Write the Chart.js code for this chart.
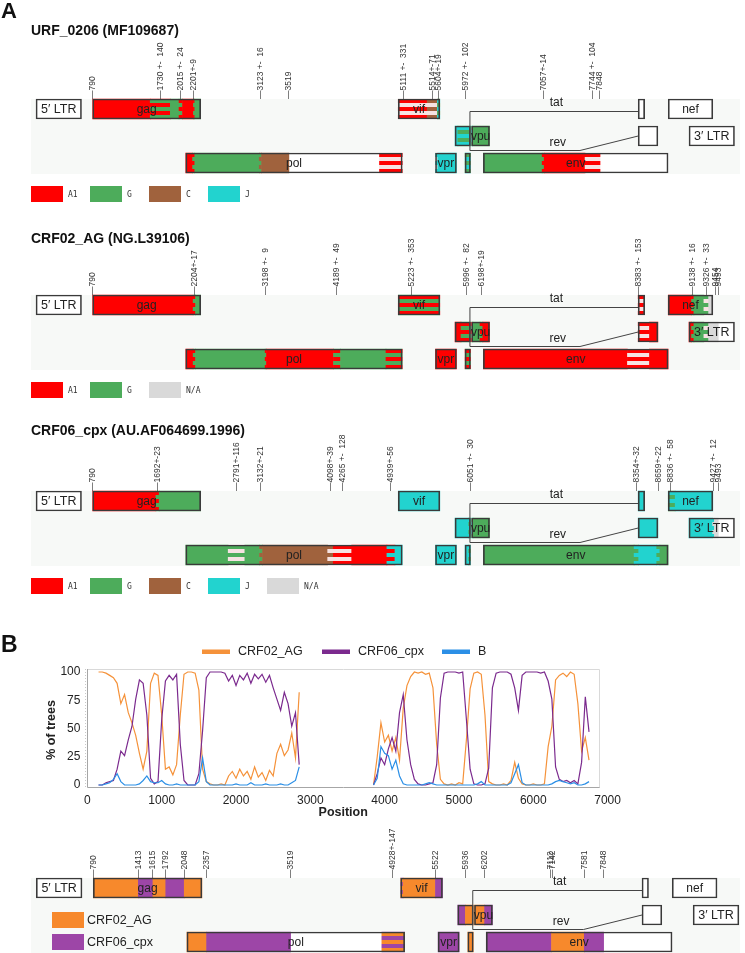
<!DOCTYPE html>
<html>
<head>
<meta charset="utf-8">
<script src="https://cdn.jsdelivr.net/npm/chart.js@4.4.1/dist/chart.umd.min.js"></script>
<style>
  html, body { margin: 0; padding: 0; background: #fff; overflow: hidden; }
  #page { position: relative; width: 745px; height: 953px; overflow: hidden; }
  #page canvas { position: absolute; left: 0; }
</style>
</head>
<body>
<div id="page">
  <canvas id="map1" width="745" height="210" style="top:0px"></canvas>
  <canvas id="map2" width="745" height="195" style="top:210px"></canvas>
  <canvas id="map3" width="745" height="200" style="top:405px"></canvas>
  <canvas id="scan" width="745" height="215" style="top:605px"></canvas>
  <canvas id="map4" width="745" height="136" style="top:820px"></canvas>
</div>
<script>
const FONT = '"Liberation Sans", Arial, sans-serif';

// ---------- genome maps (HXB2 coordinates) ----------
const rows = ['r1', 'r2', 'r3'];

// name, start, end, reading frame row
const genes = [
  ['5′ LTR', 1, 634, 'r1'],
  ['gag', 790, 2292, 'r1'],
  ['pol', 2085, 5096, 'r3'],
  ['vif', 5041, 5619, 'r1'],
  ['vpr', 5559, 5850, 'r3'],
  ['', 5831, 6045, 'r2'],   // tat exon 1
  ['', 5970, 6045, 'r3'],   // rev exon 1
  ['vpu', 6062, 6310, 'r2'],
  ['env', 6225, 8795, 'r3'],
  ['', 8379, 8469, 'r1'],   // tat exon 2
  ['', 8379, 8653, 'r2'],   // rev exon 2
  ['nef', 8797, 9417, 'r1'],
  ['3′ LTR', 9086, 9719, 'r2']
];

const subtypeColors = {
  A1: '#ff0000', G: '#4dac5b', C: '#a0623d', J: '#22d3cf', NA: '#d9d9d9',
  W: '#f6e2e2', CRF02_AG: '#f7892c', CRF06_cpx: '#9d46a7'
};
const legendNames = { NA: 'N/A' };

// URF_0206 (MF109687)
const urfTickPos = [790, 1730, 2015, 2201, 3123, 3519, 5111, 5514, 5604, 5972, 7057, 7744, 7848];
const urfTickText = ['790', '1730 +-  140', '2015 +-  24', '2201+-9', '3123 +-  16', '3519',
  '5111 +-  331', '5514+-71', '5604+-19', '5972 +-  102', '7057+-14', '7744 +-  104', '7848'];
// row, start, end, subtype ("base|stripe" = uncertain breakpoint)
const urfSegments = [
  ['r1', 790, 1590, 'A1'], ['r1', 1590, 1870, 'G|A1'], ['r1', 1870, 1991, 'G'],
  ['r1', 1991, 2039, 'A1|G'], ['r1', 2039, 2192, 'A1'], ['r1', 2192, 2210, 'A1|G'], ['r1', 2210, 2292, 'G'],
  ['r3', 2085, 2180, 'A1'], ['r3', 2180, 2210, 'A1|G'], ['r3', 2210, 3107, 'G'],
  ['r3', 3107, 3139, 'G|C'], ['r3', 3139, 3519, 'C'], ['r3', 4780, 5096, 'A1|W'],
  ['r1', 5041, 5443, 'A1|W'], ['r1', 5443, 5585, 'C|W'], ['r1', 5585, 5619, 'J|G'],
  ['r3', 5559, 5590, 'J|W'], ['r3', 5590, 5850, 'J'],
  ['r2', 5831, 5870, 'J'], ['r2', 5870, 6045, 'J|G'],
  ['r3', 5970, 6045, 'G|J'],
  ['r2', 6062, 6074, 'G|J'], ['r2', 6074, 6310, 'G'],
  ['r3', 6225, 7043, 'G'], ['r3', 7043, 7071, 'A1|G'], ['r3', 7071, 7640, 'A1'], ['r3', 7640, 7848, 'A1|W']
];
const urfLegend = ['A1', 'G', 'C', 'J'];

// CRF02_AG (NG.L39106)
const ag02TickPos = [790, 2204, 3198, 4189, 5223, 5996, 6198, 8383, 9138, 9326, 9454, 9493];
const ag02TickText = ['790', '2204+-17', '3198 +-  9', '4189 +-  49', '5223 +-  353', '5996 +-  82',
  '6198+-19', '8383 +-  153', '9138 +-  16', '9326 +-  33', '9454', '9493'];
const ag02Segments = [
  ['r1', 790, 2187, 'A1'], ['r1', 2187, 2221, 'A1|G'], ['r1', 2221, 2292, 'G'],
  ['r3', 2085, 2187, 'A1'], ['r3', 2187, 2221, 'A1|G'], ['r3', 2221, 3189, 'G'], ['r3', 3189, 3207, 'A1|G'],
  ['r3', 3207, 4140, 'A1'], ['r3', 4140, 4238, 'A1|G'], ['r3', 4238, 4870, 'G'], ['r3', 4870, 5096, 'A1|G'],
  ['r1', 5041, 5619, 'A1|G'],
  ['r3', 5559, 5850, 'A1'],
  ['r2', 5831, 5914, 'A1'], ['r2', 5914, 6045, 'A1|G'],
  ['r3', 5970, 6045, 'A1|G'],
  ['r2', 6062, 6078, 'A1|G'], ['r2', 6078, 6179, 'G'], ['r2', 6179, 6217, 'A1|G'], ['r2', 6217, 6310, 'A1'],
  ['r3', 6225, 8230, 'A1'], ['r3', 8230, 8536, 'A1|W'], ['r3', 8536, 8795, 'A1'],
  ['r1', 8379, 8469, 'A1|W'],
  ['r2', 8379, 8536, 'A1|W'], ['r2', 8536, 8653, 'A1'],
  ['r1', 8797, 9122, 'A1'], ['r1', 9122, 9154, 'A1|G'], ['r1', 9154, 9293, 'G'], ['r1', 9293, 9359, 'G|W'], ['r1', 9359, 9417, 'NA'],
  ['r2', 9086, 9122, 'A1'], ['r2', 9122, 9154, 'A1|G'], ['r2', 9154, 9293, 'G'], ['r2', 9293, 9359, 'G|W'], ['r2', 9359, 9493, 'NA']
];
const ag02Legend = ['A1', 'G', 'NA'];

// CRF06_cpx (AU.AF064699.1996)
const cpx06TickPos = [790, 1692, 2791, 3132, 4098, 4265, 4939, 6051, 8354, 8659, 8836, 9427, 9493];
const cpx06TickText = ['790', '1692+-23', '2791+-116', '3132+-21', '4098+-39', '4265 +-  128', '4939+-56',
  '6051 +-  30', '8354+-32', '8659+-22', '8836 +-  58', '9427 +-  12', '9493'];
const cpx06Segments = [
  ['r1', 790, 1669, 'A1'], ['r1', 1669, 1715, 'A1|G'], ['r1', 1715, 2292, 'G'],
  ['r3', 2085, 2675, 'G'], ['r3', 2675, 2907, 'G|W'], ['r3', 2907, 3111, 'G'], ['r3', 3111, 3153, 'C|G'],
  ['r3', 3153, 4059, 'C'], ['r3', 4059, 4137, 'C|W'], ['r3', 4137, 4393, 'A1|W'], ['r3', 4393, 4883, 'A1'],
  ['r3', 4883, 4995, 'J|A1'], ['r3', 4995, 5096, 'J'],
  ['r1', 5041, 5619, 'J'],
  ['r3', 5559, 5850, 'J'],
  ['r2', 5831, 6021, 'J'], ['r2', 6021, 6045, 'J|G'],
  ['r3', 5970, 6021, 'J'], ['r3', 6021, 6045, 'J|G'],
  ['r2', 6062, 6081, 'G|J'], ['r2', 6081, 6310, 'G'],
  ['r3', 6225, 8322, 'G'], ['r3', 8322, 8386, 'J|G'], ['r3', 8386, 8637, 'J'], ['r3', 8637, 8681, 'G|J'], ['r3', 8681, 8795, 'G'],
  ['r1', 8379, 8469, 'J'],
  ['r2', 8379, 8653, 'J'],
  ['r1', 8797, 8894, 'J|G'], ['r1', 8894, 9417, 'J'],
  ['r2', 9086, 9415, 'J'], ['r2', 9415, 9439, 'J|NA'], ['r2', 9439, 9493, 'NA']
];
const cpx06Legend = ['A1', 'G', 'C', 'J', 'NA'];

// query sequence (panel B, bottom)
const queryTickPos = [790, 1413, 1615, 1792, 2048, 2357, 3519, 4928, 5522, 5936, 6202, 7112, 7142, 7581, 7848];
const queryTickText = ['790', '1413', '1615', '1792', '2048', '2357', '3519', '4928+-147', '5522',
  '5936', '6202', '7112', '7142', '7581', '7848'];
const querySegments = [
  ['r1', 790, 1413, 'CRF02_AG'], ['r1', 1413, 1615, 'CRF06_cpx'], ['r1', 1615, 1792, 'CRF02_AG'],
  ['r1', 1792, 2048, 'CRF06_cpx'], ['r1', 2048, 2292, 'CRF02_AG'],
  ['r3', 2085, 2357, 'CRF02_AG'], ['r3', 2357, 3519, 'CRF06_cpx'], ['r3', 4781, 5096, 'CRF02_AG|CRF06_cpx'],
  ['r1', 5041, 5075, 'CRF02_AG|CRF06_cpx'], ['r1', 5075, 5522, 'CRF02_AG'], ['r1', 5522, 5619, 'CRF06_cpx'],
  ['r3', 5559, 5850, 'CRF06_cpx'],
  ['r2', 5831, 5936, 'CRF06_cpx'], ['r2', 5936, 6045, 'CRF02_AG'],
  ['r3', 5970, 6045, 'CRF02_AG'],
  ['r2', 6062, 6202, 'CRF02_AG'], ['r2', 6202, 6310, 'CRF06_cpx'],
  ['r3', 6225, 7127, 'CRF06_cpx'], ['r3', 7127, 7581, 'CRF02_AG'], ['r3', 7581, 7848, 'CRF06_cpx']
];
const queryLegend = ['CRF02_AG', 'CRF06_cpx'];

// ---------- bootscan (panel B) ----------
const scanPositions = [
  150, 200, 250, 300, 350, 400, 450, 500, 550, 600,
  650, 700, 750, 800, 850, 900, 950, 1000, 1050, 1100,
  1150, 1200, 1250, 1300, 1350, 1400, 1450, 1500, 1550, 1600,
  1650, 1700, 1750, 1800, 1850, 1900, 1950, 2000, 2050, 2100,
  2150, 2200, 2250, 2300, 2350, 2400, 2450, 2500, 2550, 2600,
  2650, 2700, 2750, 2800, 2850,
  3400,
  3850, 3900, 3950, 4000, 4050, 4100, 4150, 4200, 4250, 4300,
  4350, 4400, 4450, 4500, 4550, 4600, 4650, 4700, 4750, 4800,
  4850, 4900, 4950, 5000, 5050, 5100, 5150, 5200, 5250, 5300,
  5350, 5400, 5450, 5500, 5550, 5600, 5650, 5700, 5750, 5800,
  5850, 5900, 5950, 6000, 6050, 6100, 6150, 6200, 6250, 6300,
  6350, 6400, 6450, 6500, 6550, 6600, 6650, 6700, 6750
];
const crf02Values = [
  100, 100, 99, 97, 95, 90, 72, 80, 64, 55,
  44, 28, 14, 30, 90, 99, 97, 62, 14, 16,
  9, 18, 62, 98, 100, 100, 99, 84, 14, 3,
  1, 0, 0, 1, 0, 8, 12, 6, 14, 8,
  12, 5, 16, 7, 11, 4, 13, 8, 28, 36,
  26, 31, 46, 24, 82,
  null,
  0, 25, 55, 38, 44, 30, 42, 22, 68, 88,
  96, 100, 99, 100, 98, 99, 86, 36, 5, 1,
  0, 1, 0, 2, 1, 40, 85, 99, 100, 98,
  62, 3, 1, 0, 0, 1, 0, 4, 20, 6,
  1, 0, 0, 1, 0, 0, 1, 34, 52, 93,
  97, 99, 96, 100, 98, 72, 30, 42, 22
];
const crf06Values = [
  0, 0, 2, 3, 4, 14, 30, 26, 40, 52,
  76, 93, 90, 62, 6, 1, 3, 58, 92, 97,
  93, 98, 36, 4, 0, 0, 0, 10, 48, 95,
  100, 100, 100, 100, 99, 92, 97, 88, 97, 93,
  99, 90, 98, 94, 98, 91, 97, 86, 76, 66,
  82, 72, 52, 64, 18,
  null,
  0, 10, 24, 18, 32, 42, 30, 64, 80, 40,
  18, 5, 1, 0, 0, 1, 2, 18, 77, 99,
  100, 100, 100, 99, 100, 58, 14, 1, 0, 0,
  1, 15, 86, 99, 100, 100, 100, 98, 86, 66,
  97, 100, 100, 100, 100, 99, 100, 92, 76, 16,
  5, 3, 4, 2, 4, 1, 20, 78, 47
];
const subtypeBValues = [
  0, 0, 1, 2, 5, 10, 3, 0, 0, 0,
  0, 1, 4, 8, 3, 2, 2, 4, 1, 0,
  0, 1, 0, 0, 0, 0, 0, 3, 24, 3,
  0, 0, 0, 0, 0, 0, 0, 1, 0, 0,
  0, 2, 0, 0, 0, 1, 0, 0, 0, 1,
  0, 0, 2, 4, 16,
  null,
  0, 6, 34, 28, 26, 14, 22, 8, 1, 0,
  0, 0, 0, 0, 1, 2, 1, 0, 0, 0,
  0, 0, 0, 0, 0, 0, 0, 0, 1, 3,
  0, 0, 0, 0, 0, 0, 0, 2, 10, 18,
  2, 0, 0, 0, 0, 0, 0, 0, 1, 3,
  4, 3, 2, 1, 2, 0, 0, 1, 3
];
const yTickValues = [0, 25, 50, 75, 100];
const scanColors = { CRF02_AG: '#f5923a', CRF06_cpx: '#7b2a8e', B: '#2b8fe6' };

// ---------- helpers ----------
function stripeFill(chart, base, stripe, rowIndex) {
  const top = chart.scales.y.getPixelForValue(rowIndex) - 10;
  const tile = document.createElement('canvas');
  tile.width = 2; tile.height = 8;
  const t = tile.getContext('2d');
  t.fillStyle = base; t.fillRect(0, 0, 2, 4);
  t.fillStyle = stripe; t.fillRect(0, 4, 2, 4);
  const pattern = chart.ctx.createPattern(tile, 'repeat');
  pattern.setTransform(new DOMMatrix().translate(0, top));
  return pattern;
}

function segmentFill(ctx) {
  const seg = ctx.raw;
  if (!seg || !seg.fill) return '#ffffff';
  const [base, stripe] = seg.fill.split('|');
  if (!stripe || !ctx.chart.scales.y) return subtypeColors[base];
  return stripeFill(ctx.chart, subtypeColors[base], subtypeColors[stripe], rows.indexOf(seg.y));
}

// Draws the band, splice lines, gene names, breakpoint labels, title and legend
const mapDecor = {
  id: 'mapDecor',
  beforeDatasetsDraw(chart) {
    const { ctx } = chart;
    const y = chart.scales.y;
    const top = y.getPixelForValue(0) - 10;
    const bottom = y.getPixelForValue(2) + 11;
    ctx.save();
    ctx.fillStyle = '#f7f9f7';
    ctx.fillRect(31, top, 709, bottom - top);
    ctx.restore();
  },
  afterDatasetsDraw(chart, args, o) {
    const { ctx } = chart;
    const x = chart.scales.x, y = chart.scales.y;
    const c1 = y.getPixelForValue(0), c2 = y.getPixelForValue(1), c3 = y.getPixelForValue(2);
    ctx.save();

    // tat and rev splice connectors
    const xs = x.getPixelForValue(6045) - 0.5;
    ctx.strokeStyle = '#444';
    ctx.lineWidth = 1;
    ctx.beginPath();
    ctx.moveTo(xs, c3 - 12.5);
    ctx.lineTo(xs, c1 + 2.5);
    ctx.lineTo(x.getPixelForValue(8379), c1 + 2.5);
    ctx.moveTo(xs, c3 - 12.5);
    ctx.lineTo(x.getPixelForValue(7569), c3 - 12.5);
    ctx.lineTo(x.getPixelForValue(8379), c2);
    ctx.stroke();

    ctx.fillStyle = '#222';
    ctx.textAlign = 'center';
    ctx.textBaseline = 'middle';
    ctx.font = '12px ' + FONT;
    ctx.fillText('tat', x.getPixelForValue(7240), c1 - 6);
    ctx.fillText('rev', x.getPixelForValue(7260), c2 + 7);

    // gene names
    genes.forEach(g => {
      if (!g[0]) return;
      ctx.font = (g[0].includes('LTR') ? '12.5px ' : '12px ') + FONT;
      ctx.fillText(g[0], x.getPixelForValue((g[1] + g[2]) / 2), y.getPixelForValue(rows.indexOf(g[3])) + 0.5);
    });

    // breakpoint labels
    ctx.font = '8.5px ' + FONT;
    ctx.fillStyle = '#333';
    ctx.textAlign = 'left';
    o.ticks.forEach((p, i) => {
      ctx.save();
      ctx.translate(x.getPixelForValue(p), c1 - 10);
      ctx.rotate(-Math.PI / 2);
      ctx.fillText('—' + o.tickText[i], 0, 0);
      ctx.restore();
    });

    // title and panel letter
    ctx.fillStyle = '#111';
    ctx.textBaseline = 'alphabetic';
    if (o.title) {
      ctx.font = 'bold 14px ' + FONT;
      ctx.fillText(o.title, 31, o.titleY);
    }
    if (o.letter) {
      ctx.font = 'bold 22px ' + FONT;
      ctx.fillText(o.letter, 1, 18);
    }

    // legend
    ctx.textBaseline = 'middle';
    o.legend.forEach((key, i) => {
      ctx.fillStyle = subtypeColors[key];
      if (o.bigLegend) {
        ctx.fillRect(52, o.legendY + i * 22, 32, 16);
        ctx.fillStyle = '#222';
        ctx.font = '12.5px ' + FONT;
        ctx.fillText(key, 87, o.legendY + i * 22 + 8.5);
      } else {
        ctx.fillRect(31 + i * 59, o.legendY, 32, 16);
        ctx.fillStyle = '#333';
        ctx.font = '8px "DejaVu Sans Mono", monospace';
        ctx.fillText(legendNames[key] || key, 68 + i * 59, o.legendY + 9);
      }
    });
    ctx.restore();
  }
};

function buildMap(id, segments, deco, xRange, pad) {
  const geneBars = genes.map(g => ({ x: [g[1], g[2]], y: g[3], name: g[0] }));
  const segBars = segments.map(s => ({ x: [s[1], s[2]], y: s[0], fill: s[3] }));
  const common = { grouped: false, barThickness: 20, borderSkipped: false };
  return new Chart(document.getElementById(id), {
    type: 'bar',
    data: {
      labels: rows,
      datasets: [
        { ...common, data: geneBars, backgroundColor: '#ffffff', borderWidth: 0, order: 2 },
        { ...common, data: segBars, backgroundColor: segmentFill, borderWidth: 0, order: 1 },
        { ...common, data: geneBars, backgroundColor: 'rgba(0,0,0,0)', borderColor: '#3a3a3a', borderWidth: 1, order: 0 }
      ]
    },
    options: {
      indexAxis: 'y',
      responsive: false,
      animation: false,
      events: [],
      layout: { padding: { top: pad[0], bottom: pad[1], left: 0, right: 0 } },
      scales: {
        x: { type: 'linear', min: xRange[0], max: xRange[1], display: false },
        y: { display: false }
      },
      plugins: { legend: { display: false }, tooltip: { enabled: false }, mapDecor: deco }
    },
    plugins: [mapDecor]
  });
}

buildMap('map1', urfSegments, {
  title: 'URF_0206 (MF109687)', titleY: 35, letter: 'A',
  ticks: urfTickPos, tickText: urfTickText, legend: urfLegend, legendY: 186
}, [-500, 9865], [95.5, 33.5]);

buildMap('map2', ag02Segments, {
  title: 'CRF02_AG (NG.L39106)', titleY: 33,
  ticks: ag02TickPos, tickText: ag02TickText, legend: ag02Legend, legendY: 172
}, [-500, 9865], [81.5, 32.5]);

buildMap('map3', cpx06Segments, {
  title: 'CRF06_cpx (AU.AF064699.1996)', titleY: 30,
  ticks: cpx06TickPos, tickText: cpx06TickText, legend: cpx06Legend, legendY: 173
}, [-500, 9865], [82.5, 36.5]);

buildMap('map4', querySegments, {
  ticks: queryTickPos, tickText: queryTickText, legend: queryLegend, legendY: 92, bigLegend: true
}, [-500.5, 9803.5], [54.5, 0.5]);

// ---------- bootscan plot ----------
function toPoints(values) {
  return scanPositions.map((p, i) => ({ x: p, y: values[i] }));
}

const scanDecor = {
  id: 'scanDecor',
  beforeDatasetsDraw(chart) {
    const { ctx, chartArea: a } = chart;
    const xr = Math.round(chart.scales.x.getPixelForValue(6884)) + 0.5;
    ctx.save();
    ctx.lineWidth = 1;
    ctx.strokeStyle = '#d9d9d9';
    ctx.beginPath();
    ctx.moveTo(a.left, Math.round(a.top) + 0.5);
    ctx.lineTo(xr, Math.round(a.top) + 0.5);
    ctx.lineTo(xr, a.bottom);
    ctx.stroke();
    ctx.strokeStyle = '#a6a6a6';
    ctx.beginPath();
    ctx.moveTo(Math.round(a.left) + 0.5, a.top);
    ctx.lineTo(Math.round(a.left) + 0.5, Math.round(a.bottom) - 0.5);
    ctx.lineTo(xr, Math.round(a.bottom) - 0.5);
    ctx.stroke();
    ctx.setLineDash([1, 2]);
    ctx.strokeStyle = '#c8c8c8';
    ctx.beginPath();
    ctx.moveTo(Math.round(a.left) - 1.5, a.top);
    ctx.lineTo(Math.round(a.left) - 1.5, a.bottom);
    ctx.stroke();
    ctx.restore();
  },
  afterDraw(chart) {
    const { ctx, chartArea: a } = chart;
    ctx.save();
    ctx.fillStyle = '#111';
    ctx.font = 'bold 23px ' + FONT;
    ctx.textBaseline = 'alphabetic';
    ctx.fillText('B', 1, 47);

    // legend
    const items = [['CRF02_AG', 202], ['CRF06_cpx', 322], ['B', 442]];
    ctx.font = '12.5px ' + FONT;
    ctx.textBaseline = 'middle';
    items.forEach(([name, lx]) => {
      ctx.fillStyle = scanColors[name];
      ctx.fillRect(lx, 44.5, 28, 4.5);
      ctx.fillStyle = '#222';
      ctx.fillText(name, lx + 36, 47);
    });

    // axis titles
    ctx.font = 'bold 12.5px ' + FONT;
    ctx.textAlign = 'center';
    ctx.fillText('Position', (a.left + chart.scales.x.getPixelForValue(6884)) / 2, 208);
    ctx.translate(52, 125);
    ctx.rotate(-Math.PI / 2);
    ctx.fillText('% of trees', 0, 0);
    ctx.restore();
  }
};

new Chart(document.getElementById('scan'), {
  type: 'line',
  data: {
    datasets: [
      { label: 'CRF02_AG', data: toPoints(crf02Values), borderColor: scanColors.CRF02_AG, order: 2 },
      { label: 'CRF06_cpx', data: toPoints(crf06Values), borderColor: scanColors.CRF06_cpx, order: 1 },
      { label: 'B', data: toPoints(subtypeBValues), borderColor: scanColors.B, order: 0 }
    ]
  },
  options: {
    responsive: false,
    animation: false,
    events: [],
    spanGaps: false,
    elements: { point: { radius: 0 }, line: { borderWidth: 1.2, tension: 0 } },
    layout: { padding: { top: 64, right: 137.4, bottom: 0, left: 0 } },
    scales: {
      x: {
        type: 'linear', min: 0, max: 7000,
        ticks: {
          stepSize: 1000, padding: 5, maxRotation: 0, color: '#222', font: { size: 12, family: FONT },
          callback: v => String(v)
        },
        grid: { display: false, drawTicks: false },
        border: { display: false },
        afterFit: s => { s.height = 32; }
      },
      y: {
        min: -2.65, max: 102.65,
        afterBuildTicks: s => { s.ticks = yTickValues.map(v => ({ value: v })); },
        ticks: { padding: 7, color: '#222', font: { size: 12, family: FONT } },
        grid: { display: false, drawTicks: false },
        border: { display: false },
        afterFit: s => { s.width = 87.4; }
      }
    },
    plugins: { legend: { display: false }, tooltip: { enabled: false } }
  },
  plugins: [scanDecor]
});
</script>
</body>
</html>
